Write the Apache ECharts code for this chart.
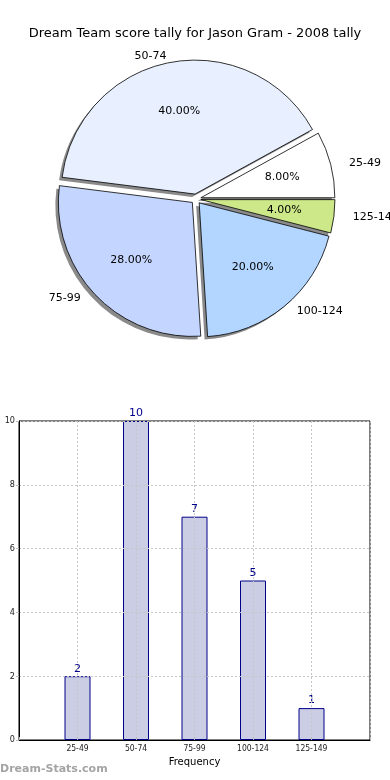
<!DOCTYPE html>
<html>
<head>
<meta charset="utf-8">
<script src="https://cdn.jsdelivr.net/npm/echarts@6/dist/echarts.min.js"></script>
<style>
html,body{margin:0;padding:0;background:#fff;}
#chart{width:390px;height:780px;}
</style>
</head>
<body>
<div id="chart"></div>
<script>
const titleText = 'Dream Team score tally for Jason Gram - 2008 tally';
const categories = ['25-49', '50-74', '75-99', '100-124', '125-149'];
const counts = [2, 10, 7, 5, 1];
const sliceColors = ['#ffffff', '#e8f0ff', '#c4d6ff', '#b2d6ff', '#cce888'];
const yTicks = [0, 2, 4, 6, 8, 10];
const xAxisName = 'Frequency';
const watermark = 'Dream-Stats.com';

const total = counts.reduce((a, b) => a + b, 0);
const FONT = 'DejaVu Sans';
const CENTER = [196, 199];
const R = 134;
const OFFSET = 5;
const LABEL_LEN = 6;     // radial label distance beyond the slice
const LABEL_WIDEN = 13;  // extra horizontal spread (reference pie is slightly elliptical)

// mid-angle of each slice (counter-clockwise from 3 o'clock), from the data
const midAngles = (() => {
  let cum = 0;
  return counts.map(v => { const a = 360 * (cum + v / 2) / total; cum += v; return a; });
})();

function pieData(kind) {
  return categories.map((c, i) => {
    const item = { name: c, value: counts[i], selected: true };
    if (kind === 'main') {
      item.itemStyle = { color: sliceColors[i] };
      item.labelLine = {
        show: false,
        length: LABEL_LEN,
        length2: LABEL_WIDEN * Math.abs(Math.cos(midAngles[i] * Math.PI / 180))
      };
    } else if (kind === 'shadow') {
      item.itemStyle = { color: '#8a8a8a' };
    } else {
      item.itemStyle = { color: 'rgba(0,0,0,0)' };
    }
    return item;
  });
}

const barCats = [''].concat(categories).concat(['']);
const barVals = [null].concat(counts).concat([null]);

const pieCommon = {
  type: 'pie',
  startAngle: 0,
  clockwise: false,
  selectedMode: 'multiple',
  selectedOffset: OFFSET,
  silent: true,
  avoidLabelOverlap: false,
  emphasis: { disabled: true }
};

const chart = echarts.init(document.getElementById('chart'), null, { renderer: 'canvas' });
chart.setOption({
  animation: false,
  backgroundColor: '#fff',
  title: {
    text: titleText,
    left: 'center',
    top: 22,
    textStyle: { fontFamily: FONT, fontSize: 13, fontWeight: 'normal', color: '#000' }
  },
  graphic: [{
    type: 'text',
    left: 0,
    top: 764,
    style: { text: watermark, fontFamily: FONT, fontSize: 11, fontWeight: 'bold', fill: '#a4a4a4' }
  }],
  grid: {
    left: 19, right: 20, top: 421, height: 319,
    show: true, borderColor: '#000', borderWidth: 1, backgroundColor: 'transparent'
  },
  xAxis: {
    type: 'category',
    data: barCats,
    boundaryGap: false,
    z: 5,
    name: xAxisName,
    nameLocation: 'middle',
    nameGap: 17,
    nameTextStyle: { fontFamily: FONT, fontSize: 10, color: '#000' },
    axisLine: { lineStyle: { color: '#000', width: 1 } },
    axisTick: { show: true, inside: true, length: 3, lineStyle: { color: '#bbb' } },
    axisLabel: { fontFamily: 'DejaVu Sans Condensed', fontSize: 8.5, color: '#222', margin: 4, interval: 0 },
    splitLine: { show: true, lineStyle: { color: '#c6c6c6', type: [2, 2], width: 1 } }
  },
  yAxis: {
    type: 'value',
    min: 0, max: 10, interval: 2,
    z: 5,
    axisLine: { show: true, lineStyle: { color: '#000', width: 1 } },
    axisTick: { show: true, length: 3, lineStyle: { color: '#bbb' } },
    axisLabel: { fontFamily: 'DejaVu Sans Condensed', fontSize: 9, color: '#222', margin: 4,
      formatter: v => yTicks.indexOf(v) >= 0 ? String(v) : '' },
    splitLine: { show: true, lineStyle: { color: '#c6c6c6', type: [2, 2], width: 1 } }
  },
  series: [
    Object.assign({}, pieCommon, {
      center: [CENTER[0] - 3, CENTER[1] + 3],
      radius: R,
      z: 1,
      label: { show: false },
      labelLine: { show: false },
      itemStyle: { borderWidth: 0 },
      data: pieData('shadow')
    }),
    Object.assign({}, pieCommon, {
      center: CENTER,
      radius: R,
      z: 2,
      label: {
        show: true, position: 'outside', overflow: 'none', distanceToLabelLine: 0, bleedMargin: 0,
        fontFamily: FONT, fontSize: 11, color: '#000', formatter: p => p.name
      },
      labelLine: { show: false, length: LABEL_LEN, length2: 0 },
      itemStyle: { borderColor: '#000', borderWidth: 0.8 },
      data: pieData('main')
    }),
    Object.assign({}, pieCommon, {
      center: CENTER,
      radius: [56, 106],
      z: 3,
      itemStyle: { borderWidth: 0 },
      label: {
        show: true, position: 'inside',
        fontFamily: FONT, fontSize: 11, color: '#000',
        formatter: p => (p.value / total * 100).toFixed(2) + '%'
      },
      labelLine: { show: false },
      data: pieData('label')
    }),
    {
      type: 'bar',
      data: barVals,
      barWidth: 26,
      itemStyle: { color: '#cbcde4', borderColor: '#000088', borderWidth: 1 },
      label: {
        show: true, position: 'top', distance: 2,
        fontFamily: FONT, fontSize: 11, color: '#00008b'
      }
    }
  ]
});
</script>
</body>
</html>
